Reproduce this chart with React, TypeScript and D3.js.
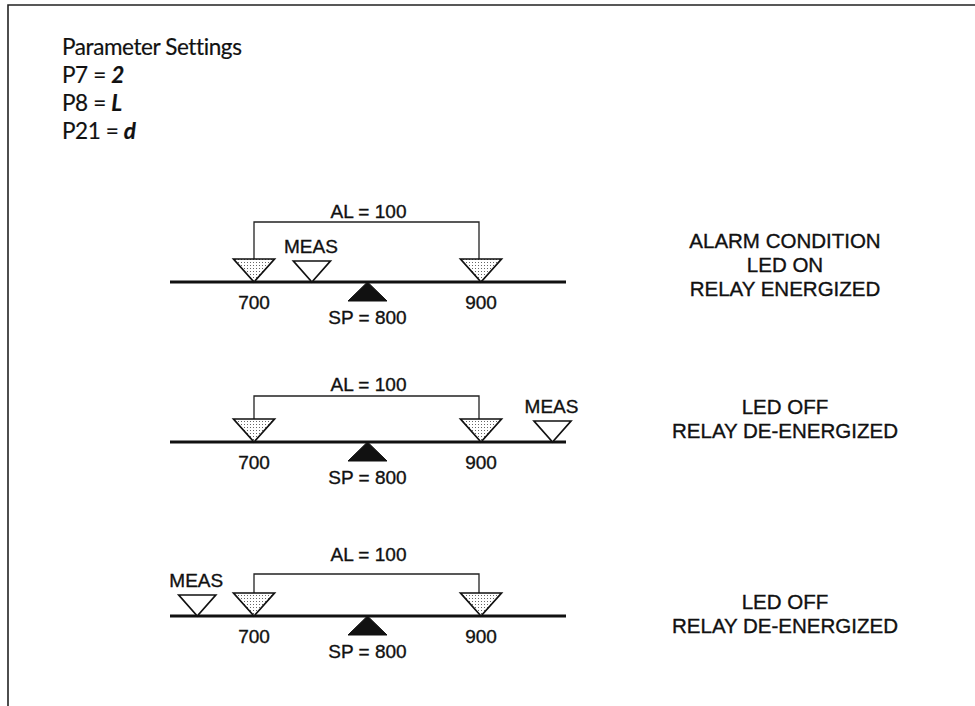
import { useMemo } from 'react'
import * as d3 from 'd3'

// parameter header
const paramNames = ['P7', 'P8', 'P21']
const paramValues = ['2', 'L', 'd']

// alarm setup (same for all three cases)
const setpoint = 800
const alarmBand = 100
const measValues = [751, 963, 650]

const statusLines = [
  ['ALARM CONDITION', 'LED ON', 'RELAY ENERGIZED'],
  ['LED OFF', 'RELAY DE-ENERGIZED'],
  ['LED OFF', 'RELAY DE-ENERGIZED'],
]

// layout per panel (pixels)
const baseY = [282, 442, 616]
const bracketY = [222, 396, 574]
const alTextY = [218, 391, 561]
const statusY = [248, 414, 609]

const W = 975
const H = 706
const SANS = '"Liberation Sans", Arial, Helvetica, sans-serif'
const HEAD = 'Lato, "Open Sans", sans-serif'
const INK = '#111'

export default function App() {
  const x = useMemo(
    () => d3.scaleLinear().domain([setpoint - alarmBand, setpoint + alarmBand]).range([254, 481]),
    []
  )
  const lo = setpoint - alarmBand
  const hi = setpoint + alarmBand

  // downward triangle with tip at (cx, cy)
  const down = (cx: number, cy: number, w: number, h: number) => {
    const p = d3.path()
    p.moveTo(cx - w / 2, cy - h)
    p.lineTo(cx + w / 2, cy - h)
    p.lineTo(cx, cy)
    p.closePath()
    return p.toString()
  }
  const up = (cx: number, cy: number, w: number, h: number) => {
    const p = d3.path()
    p.moveTo(cx, cy)
    p.lineTo(cx + w / 2, cy + h)
    p.lineTo(cx - w / 2, cy + h)
    p.closePath()
    return p.toString()
  }

  // scanned print looks a little heavier than plain regular
  const label = { fontFamily: SANS, fill: INK, stroke: INK, strokeWidth: 0.35 }
  const head = { fontFamily: HEAD, fontSize: 22.5, letterSpacing: -0.4, fill: INK, stroke: INK, strokeWidth: 0.2 }

  return (
    <svg
      width={W}
      height={H}
      style={{ position: 'fixed', left: 0, top: 0, background: '#fff' }}
    >
      <defs>
        <pattern id="stipple" width={3} height={3} patternUnits="userSpaceOnUse">
          <rect width={3} height={3} fill="#fff" />
          <rect x={1} y={1} width={1} height={1} fill="#666" />
        </pattern>
      </defs>

      {/* frame */}
      <path d={`M8,706 L8,5 L975,5`} fill="none" stroke="#222" strokeWidth={1.6} />

      {/* header */}
      <text {...head} x={62} y={55}>
        Parameter Settings
      </text>
      {paramNames.map((n, i) => (
        <text key={n} {...head} x={62} y={83 + i * 28}>
          {n} ={' '}
          <tspan fontStyle="italic" fontWeight={700}>
            {paramValues[i]}
          </tspan>
        </text>
      ))}

      {measValues.map((m, i) => {
        const by = baseY[i]
        return (
          <g key={i}>
            {/* bracket for AL band */}
            <path
              d={`M${x(lo)},${by - 22} L${x(lo)},${bracketY[i]} L${x(hi) - 2},${bracketY[i]} L${x(hi) - 2},${by - 22}`}
              fill="none"
              stroke="#222"
              strokeWidth={1.3}
            />
            <text {...label} x={(x(lo) + x(hi)) / 2 + 1} y={alTextY[i]} textAnchor="middle" fontSize={19}>
              AL = {alarmBand}
            </text>

            {/* process line */}
            <line x1={170} x2={566} y1={by} y2={by} stroke={INK} strokeWidth={2.8} />

            {/* alarm points */}
            {[lo, hi].map((v) => (
              <path
                key={v}
                d={down(x(v), by, 41, 23)}
                fill="url(#stipple)"
                stroke={INK}
                strokeWidth={1.7}
              />
            ))}

            {/* measured value */}
            <path d={down(x(m), by, 37, 21)} fill="#fff" stroke={INK} strokeWidth={1.7} />
            <text {...label} x={x(m) - 1} y={by - 29} textAnchor="middle" fontSize={19}>
              MEAS
            </text>

            {/* setpoint */}
            <path d={up(x(setpoint), by, 39, 19)} fill={INK} stroke={INK} strokeWidth={1} />
            <text {...label} x={x(setpoint)} y={by + 42} textAnchor="middle" fontSize={19}>
              SP = {setpoint}
            </text>

            {[lo, hi].map((v) => (
              <text key={v} {...label} x={x(v)} y={by + 27} textAnchor="middle" fontSize={19}>
                {v}
              </text>
            ))}

            {/* status text */}
            {statusLines[i].map((s, j) => (
              <text
                key={s}
                {...label}
                x={785}
                y={statusY[i] + j * 24}
                textAnchor="middle"
                fontSize={20.5}
              >
                {s}
              </text>
            ))}
          </g>
        )
      })}
    </svg>
  )
}
